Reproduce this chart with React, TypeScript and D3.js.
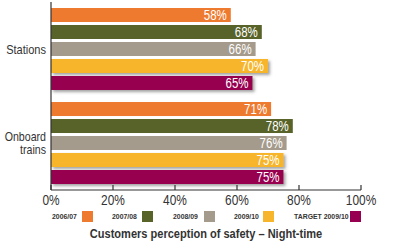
import React from 'react';
import * as d3 from 'd3';

const width = 406;
const height = 248;
const margin = {top: 8, left: 51, right: 45};
const axisY = 190;
const font = '"Liberation Sans", Arial, sans-serif';

const categories = ['Stations', 'Onboard trains'];
const series = ['2006/07', '2007/08', '2008/09', '2009/10', 'TARGET 2009/10'];
const colors = ['#ee7a30', '#58632a', '#a59b8c', '#f6b52b', '#970050'];
const stations = [58, 68, 66, 70, 65];
const onboard = [71, 78, 76, 75, 75];
const ticks = [0, 20, 40, 60, 80, 100];
const title = 'Customers perception of safety \u2013 Night-time';

const values = [stations, onboard];

const x = d3.scaleLinear().domain([0, 100]).range([margin.left, width - margin.right]);
const yGroup = d3.scaleBand().domain(categories).range([margin.top, 184]).paddingInner(0.128).paddingOuter(0);
const yBar = d3.scaleBand().domain(series).range([0, yGroup.bandwidth()]).paddingInner(0.176).paddingOuter(0);

// legend x positions (text start)
const legendX = [52, 112, 173, 234, 294];
const swatchX = [82, 142, 204, 263, 350];

// condensed text: regular font squeezed horizontally
function T({x, y, sx = 0.85, anchor = 'start', size = 13, weight = 'normal', fill = '#333', children}: any) {
  return (
    <text transform={`translate(${x},${y}) scale(${sx},1)`} textAnchor={anchor} fontSize={size}
      fontWeight={weight} fill={fill}>{children}</text>
  );
}

export default function App() {
  const onboardMid = yGroup('Onboard trains')! + yGroup.bandwidth() / 2;
  return (
    <svg width={width} height={height} style={{position: 'absolute', left: 0, top: 0}} fontFamily={font}>
      <defs>
        <filter id="shadow" x="-5%" y="-30%" width="115%" height="190%">
          <feDropShadow dx="2" dy="2" stdDeviation="1.4" floodColor="#555" floodOpacity="0.55" />
        </filter>
      </defs>
      {categories.map((c, ci) => {
        const g0 = yGroup(c)!;
        return (
          <g key={c}>
            {series.map((s, si) => {
              const v = values[ci][si];
              const y = g0 + yBar(s)!;
              return (
                <g key={s}>
                  <rect x={x(0)} y={y} width={x(v) - x(0)} height={yBar.bandwidth()} fill={colors[si]}
                    filter={si >= 3 ? 'url(#shadow)' : undefined} />
                  <T x={x(v) - 4} y={y + yBar.bandwidth() / 2 + 5} anchor="end" fill="#fff" size={14} sx={0.82}>{v}%</T>
                </g>
              );
            })}
          </g>
        );
      })}
      {/* category labels */}
      <T x={46} y={yGroup('Stations')! + yGroup.bandwidth() / 2 + 5} anchor="end">Stations</T>
      <T x={46} y={onboardMid - 2.5} anchor="end" size={12.5}>Onboard</T>
      <T x={46} y={onboardMid + 10.5} anchor="end" size={12.5}>trains</T>
      {/* axes */}
      <line x1={x(0)} x2={x(0)} y1={2} y2={axisY} stroke="#333" strokeWidth={1.2} />
      <line x1={x(0)} x2={x(100)} y1={axisY} y2={axisY} stroke="#333" strokeWidth={1.2} />
      {ticks.map(t => (
        <g key={t}>
          <line x1={x(t)} x2={x(t)} y1={axisY - 5} y2={axisY} stroke="#333" strokeWidth={1.2} />
          <T x={x(t)} y={205} anchor="middle" size={14}>{t}%</T>
        </g>
      ))}
      {/* legend */}
      {series.map((s, i) => (
        <g key={s}>
          <T x={legendX[i]} y={219} size={7.5} weight="bold" sx={0.92}>{s}</T>
          <rect x={swatchX[i]} y={211} width={11} height={11} fill={colors[i]} />
        </g>
      ))}
      <T x={206} y={238} anchor="middle" size={13} weight="bold" sx={0.85}>{title}</T>
    </svg>
  );
}
